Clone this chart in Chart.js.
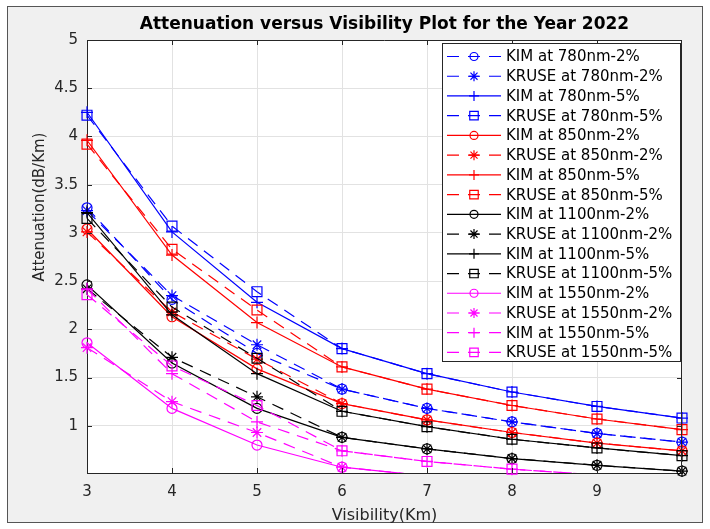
<!DOCTYPE html>
<html>
<head>
<meta charset="utf-8">
<script src="https://cdn.jsdelivr.net/npm/chart.js@4.4.0/dist/chart.umd.min.js"></script>
<style>
html, body { margin: 0; padding: 0; background: #fff; }
#wrap { width: 710px; height: 529px; position: relative; }
</style>
</head>
<body>
<div id="wrap"><canvas id="attnChart" width="710" height="529"></canvas></div>
<script>
// Visibility (Km)
const visibility = [3, 4, 5, 6, 7, 8, 9, 10];
const xTicks = [3, 4, 5, 6, 7, 8, 9];
const yTicks = [1, 1.5, 2, 2.5, 3, 3.5, 4, 4.5, 5];

// Attenuation (dB/Km)
const kim780_2    = [3.26, 2.31, 1.75, 1.38, 1.18, 1.04, 0.92, 0.83];
const kruse780_2  = [3.23, 2.35, 1.84, 1.38, 1.18, 1.04, 0.92, 0.83];
const kim780_5    = [4.25, 3.01, 2.28, 1.80, 1.54, 1.35, 1.20, 1.08];
const kruse780_5  = [4.22, 3.07, 2.39, 1.80, 1.54, 1.35, 1.20, 1.08];
const kim850_2    = [3.04, 2.13, 1.59, 1.23, 1.06, 0.93, 0.82, 0.74];
const kruse850_2  = [3.01, 2.18, 1.69, 1.23, 1.06, 0.93, 0.82, 0.74];
const kim850_5    = [3.96, 2.77, 2.07, 1.61, 1.38, 1.21, 1.07, 0.96];
const kruse850_5  = [3.92, 2.83, 2.20, 1.61, 1.38, 1.21, 1.07, 0.96];
const kim1100_2   = [2.46, 1.65, 1.18, 0.88, 0.76, 0.66, 0.59, 0.53];
const kruse1100_2 = [2.42, 1.71, 1.30, 0.88, 0.76, 0.66, 0.59, 0.53];
const kim1100_5   = [3.21, 2.15, 1.54, 1.15, 0.99, 0.86, 0.77, 0.69];
const kruse1100_5 = [3.15, 2.23, 1.70, 1.15, 0.99, 0.86, 0.77, 0.69];
const kim1550_2   = [1.86, 1.18, 0.80, 0.57, 0.48, 0.42, 0.38, 0.34];
const kruse1550_2 = [1.81, 1.25, 0.93, 0.57, 0.48, 0.42, 0.38, 0.34];
const kim1550_5   = [2.42, 1.54, 1.04, 0.74, 0.63, 0.55, 0.49, 0.44];
const kruse1550_5 = [2.36, 1.62, 1.21, 0.74, 0.63, 0.55, 0.49, 0.44];

const seriesNames = [
    'KIM at 780nm-2%', 'KRUSE at 780nm-2%', 'KIM at 780nm-5%', 'KRUSE at 780nm-5%',
    'KIM at 850nm-2%', 'KRUSE at 850nm-2%', 'KIM at 850nm-5%', 'KRUSE at 850nm-5%',
    'KIM at 1100nm-2%', 'KRUSE at 1100nm-2%', 'KIM at 1100nm-5%', 'KRUSE at 1100nm-5%',
    'KIM at 1550nm-2%', 'KRUSE at 1550nm-2%', 'KIM at 1550nm-5%', 'KRUSE at 1550nm-5%'
];
const seriesData = [
    kim780_2, kruse780_2, kim780_5, kruse780_5,
    kim850_2, kruse850_2, kim850_5, kruse850_5,
    kim1100_2, kruse1100_2, kim1100_5, kruse1100_5,
    kim1550_2, kruse1550_2, kim1550_5, kruse1550_5
];
const chartTitle = 'Attenuation versus Visibility Plot for the Year 2022';
const xTitle = 'Visibility(Km)';
const yTitle = 'Attenuation(dB/Km)';

// styles
const BLUE = '#0000ff', RED = '#ff0000', BLACK = '#000000', MAGENTA = '#ff00ff';
const seriesColors = [BLUE, BLUE, BLUE, BLUE, RED, RED, RED, RED, BLACK, BLACK, BLACK, BLACK, MAGENTA, MAGENTA, MAGENTA, MAGENTA];
const seriesDashed = [true, true, false, true, false, true, false, true, false, true, false, true, false, true, true, true];
const seriesMarkers = ['circle', 'star', 'cross', 'rect', 'circle', 'star', 'cross', 'rect', 'circle', 'star', 'cross', 'rect', 'circle', 'star', 'cross', 'rect'];
const markerSize = { circle: 5, star: 6, cross: 6, rect: 7 };
const FONT = 'DejaVu Sans';
const Y_MIN = 0.51, Y_MAX = 5;

const datasets = [];
seriesNames.forEach((name, i) => {
    const pts = visibility.map((v, j) => ({ x: v, y: seriesData[i][j] }));
    datasets.push({
        label: name, data: pts,
        borderColor: seriesColors[i], borderWidth: 1.2,
        borderDash: seriesDashed[i] ? [12, 8] : [],
        pointRadius: 0, pointHoverRadius: 0, tension: 0, fill: false,
        clip: 0, order: 2 * (15 - i) + 1
    });
    datasets.push({
        label: name + ' markers', data: pts, showLine: false,
        borderColor: seriesColors[i], backgroundColor: 'transparent',
        pointBorderColor: seriesColors[i], pointBackgroundColor: 'transparent',
        pointStyle: seriesMarkers[i], pointBorderWidth: 1.2,
        pointRadius: ctx => (ctx.raw && ctx.raw.y < Y_MIN) ? 0 : markerSize[seriesMarkers[i]],
        clip: false, order: 2 * (15 - i)
    });
});

// figure background, titles, box, ticks and legend
const figurePlugin = {
    id: 'figure',
    beforeDraw(chart) {
        const { ctx, chartArea: a } = chart;
        ctx.save();
        ctx.fillStyle = '#ffffff';
        ctx.fillRect(0, 0, chart.width, chart.height);
        ctx.fillStyle = '#f0f0f0';
        ctx.fillRect(7, 6, 696, 517);
        ctx.strokeStyle = '#555';
        ctx.lineWidth = 1;
        ctx.strokeRect(7.5, 6.5, 695, 516);
        ctx.fillStyle = '#ffffff';
        ctx.fillRect(a.left, a.top, a.right - a.left, a.bottom - a.top);

        // title
        ctx.fillStyle = '#000000';
        ctx.font = 'bold 17px "' + FONT + '"';
        ctx.textAlign = 'center';
        ctx.textBaseline = 'middle';
        ctx.fillText(chartTitle, (a.left + a.right) / 2, 25);

        // y axis label
        ctx.fillStyle = '#262626';
        ctx.font = '15px "' + FONT + '"';
        ctx.translate(40, 207);
        ctx.rotate(-Math.PI / 2);
        ctx.fillText(yTitle, 0, 0);
        ctx.restore();
    },
    afterDatasetsDraw(chart) {
        const { ctx, chartArea: a, scales } = chart;
        ctx.save();
        // box + inward tick marks
        ctx.strokeStyle = '#262626';
        ctx.lineWidth = 1;
        ctx.beginPath();
        ctx.moveTo(a.left, a.top + 0.5); ctx.lineTo(a.right, a.top + 0.5);
        ctx.moveTo(a.right - 0.5, a.top); ctx.lineTo(a.right - 0.5, a.bottom);
        yTicks.forEach(v => {
            const y = Math.round(scales.y.getPixelForValue(v)) + 0.5;
            ctx.moveTo(a.left, y); ctx.lineTo(a.left + 5, y);
            ctx.moveTo(a.right, y); ctx.lineTo(a.right - 5, y);
        });
        xTicks.slice(1).forEach(v => {
            const x = Math.round(scales.x.getPixelForValue(v)) + 0.5;
            ctx.moveTo(x, a.bottom); ctx.lineTo(x, a.bottom - 5);
            ctx.moveTo(x, a.top); ctx.lineTo(x, a.top + 5);
        });
        ctx.stroke();

        // legend
        const lx = 442.5, ly = 43.5, lw = 238, lh = 318, rowH = 19.73;
        ctx.fillStyle = '#ffffff';
        ctx.fillRect(lx, ly, lw, lh);
        ctx.strokeStyle = '#262626';
        ctx.strokeRect(lx, ly, lw, lh);
        ctx.font = '15px "' + FONT + '"';
        ctx.textBaseline = 'middle';
        ctx.textAlign = 'left';
        seriesNames.forEach((name, i) => {
            const y = ly + 13 + i * rowH;
            ctx.strokeStyle = seriesColors[i];
            ctx.lineWidth = 1.2;
            ctx.setLineDash(seriesDashed[i] ? [12, 9] : []);
            ctx.beginPath();
            ctx.moveTo(447, y); ctx.lineTo(501, y);
            ctx.stroke();
            ctx.setLineDash([]);
            ctx.fillStyle = 'rgba(0,0,0,0)';
            Chart.helpers.drawPoint(ctx, {
                pointStyle: seriesMarkers[i], radius: markerSize[seriesMarkers[i]] - 1,
                borderWidth: 1.2, rotation: 0
            }, 474, y);
            ctx.fillStyle = '#000000';
            ctx.fillText(name, 506, y + 1);
        });
        ctx.restore();
    }
};

const ctx = document.getElementById('attnChart').getContext('2d');
new Chart(ctx, {
    type: 'line',
    data: { datasets },
    options: {
        responsive: false, animation: false, events: [],
        layout: { padding: { left: 0, right: 28, top: 40, bottom: 0 } },
        plugins: {
            legend: { display: false },
            tooltip: { enabled: false },
            title: { display: false }
        },
        scales: {
            x: {
                type: 'linear', min: 3, max: 10,
                afterBuildTicks: s => { s.ticks = xTicks.map(v => ({ value: v })); },
                afterFit: s => { s.height = 56; },
                ticks: { autoSkip: false, maxRotation: 0, padding: 10, color: '#262626', font: { family: FONT, size: 15 }, callback: v => String(v) },
                grid: { color: '#e2e2e2', drawTicks: false },
                border: { color: '#262626', width: 1 },
                title: { display: true, text: xTitle, color: '#262626', font: { family: FONT, size: 16 }, padding: { top: 0, bottom: 4 } }
            },
            y: {
                type: 'linear', min: Y_MIN, max: Y_MAX,
                afterBuildTicks: s => { s.ticks = yTicks.map(v => ({ value: v })); },
                afterFit: s => { s.width = 87; },
                ticks: { autoSkip: false, padding: 9, color: '#262626', font: { family: FONT, size: 15 }, callback: v => String(v) },
                grid: { color: '#e2e2e2', drawTicks: false },
                border: { color: '#262626', width: 1 }
            }
        }
    },
    plugins: [figurePlugin]
});
</script>
</body>
</html>
